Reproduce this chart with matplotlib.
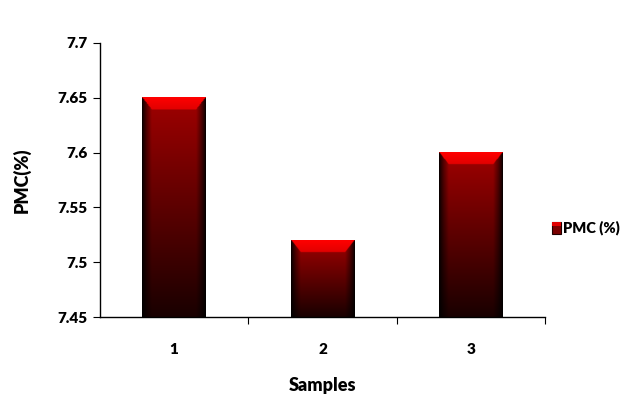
import matplotlib
matplotlib.use("Agg")
import matplotlib.pyplot as plt
import numpy as np
from matplotlib.patches import Rectangle

samples = [1, 2, 3]
pmc = [7.65, 7.52, 7.60]
y_ticks = [7.45, 7.5, 7.55, 7.6, 7.65, 7.7]
y_labels = ["7.45", "7.5", "7.55", "7.6", "7.65", "7.7"]

plt.rcParams['font.family'] = ['Lato', 'DejaVu Sans']
plt.rcParams['font.weight'] = 'bold'

fig = plt.figure(figsize=(6.36, 3.94), dpi=100)
ax = fig.add_axes([0.157, 0.1954, 0.700, 0.6956])
ax.set_xlim(0.5, 3.5)
ax.set_ylim(7.45, 7.7)

bar_w = 0.43
bevel_h = 0.011
bevel_w = 0.065


def bar_image(x0, x1, y0, y1, n=300, m=80):
    # shaded front face with a bright bevel on top and dark edges on the sides
    xs = np.linspace(x0, x1, m)
    ys = np.linspace(y1, y0, n)
    X, Y = np.meshgrid(xs, ys)
    d_top = (y1 - Y) / bevel_h
    d_left = (X - x0) / bevel_w
    d_right = (x1 - X) / bevel_w
    t = (y1 - Y) / (y1 - y0)
    face = 160 - 135 * t
    img = np.zeros((n, m, 3))
    img[..., 0] = face
    side = np.minimum(d_left, d_right)
    side_mask = (side < 1) & (side < d_top)
    shade = np.clip(side, 0, 1) ** 0.8
    img[..., 0] = np.where(side_mask, face * (0.05 + 0.95 * shade), img[..., 0])
    top_mask = (d_top < 1) & (d_top <= side)
    img[..., 0] = np.where(top_mask, 255 - 30 * d_top, img[..., 0])
    return np.clip(img, 0, 255) / 255.0


for s, v in zip(samples, pmc):
    x0, x1 = s - bar_w / 2, s + bar_w / 2
    ax.imshow(bar_image(x0, x1, 7.45, v), extent=[x0, x1, 7.45, v],
              aspect='auto', interpolation='bilinear', zorder=2)

ax.set_xlim(0.5, 3.5)
ax.set_ylim(7.45, 7.7)

for side in ['top', 'right']:
    ax.spines[side].set_visible(False)
ax.spines['left'].set_linewidth(1.0)
ax.spines['bottom'].set_linewidth(1.0)

ax.set_yticks(y_ticks)
ax.set_yticklabels(y_labels, fontsize=11, fontweight='heavy')
ax.set_xticks([1.5, 2.5, 3.5])
ax.set_xticklabels([])
ax.set_xticks(samples, minor=True)
ax.set_xticklabels([str(s) for s in samples], minor=True,
                   fontsize=11, fontweight='heavy')
ax.tick_params(axis='x', which='minor', length=0, pad=19)
ax.tick_params(axis='x', which='major', length=5, direction='out')
ax.tick_params(axis='y', length=5, direction='out', pad=4)

ax.set_xlabel("Samples", fontsize=13, fontweight='heavy', labelpad=15)
ax.set_ylabel("PMC(%)", fontsize=13, fontweight='heavy', labelpad=19)

# legend key drawn in figure space
key = Rectangle((552 / 636, 1 - 234 / 394), 9 / 636, 12 / 394,
                transform=fig.transFigure, facecolor='#7a0000',
                edgecolor='#200000', linewidth=0.8)
fig.patches.append(key)
fig.patches.append(Rectangle((552 / 636, 1 - 226 / 394), 9 / 636, 4 / 394,
                             transform=fig.transFigure, facecolor='#e00000',
                             edgecolor='none'))
fig.text(563 / 636, 1 - 228 / 394, "PMC (%)", fontsize=10.5,
         fontweight='heavy', va='center', ha='left')

fig.savefig("out.png", dpi=100)
